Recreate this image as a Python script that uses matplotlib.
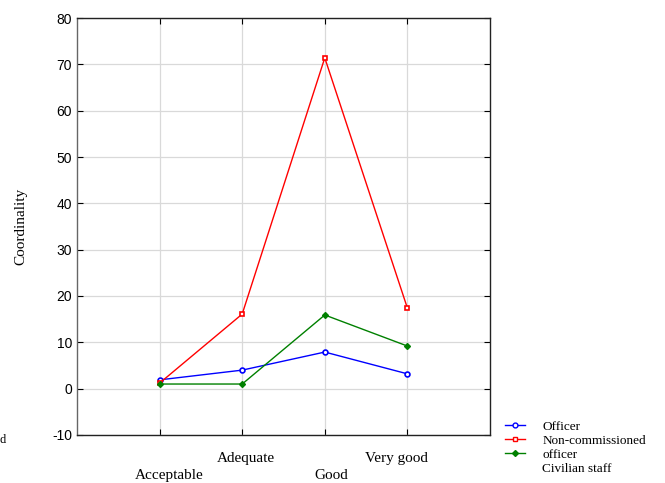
import matplotlib.pyplot as plt
from matplotlib.lines import Line2D

plt.rcParams["axes.unicode_minus"] = False

categories = ["Acceptable", "Adequate", "Good", "Very good"]
officer = [1.9, 4.0, 7.9, 3.2]
nco = [1.2, 16.1, 71.4, 17.4]
civilian = [1.0, 1.0, 15.9, 9.2]
legend_labels = ["Officer", "Non-commissioned", "officer", "Civilian staff"]

SERIF = "Liberation Serif"
SANS = "Liberation Sans"

fig = plt.figure(figsize=(6.65, 4.83), dpi=100)
ax = fig.add_axes([0.1158, 0.0994, 0.6210, 0.8633])

x = list(range(1, len(categories) + 1))
ax.plot(x, officer, color="#0000ff", lw=1.0, marker="o", ms=3.5,
        mfc="white", mec="#0000ff", mew=1.2, zorder=3)
ax.plot(x, nco, color="#ff0000", lw=1.0, marker="s", ms=3.5,
        mfc="white", mec="#ff0000", mew=1.2, zorder=3)
ax.plot(x, civilian, color="#008000", lw=1.0, marker="D", ms=3,
        mfc="#008000", mec="#008000", zorder=3)

ax.set_xlim(0, 5)
ax.set_ylim(-10, 80)
ax.set_yticks(range(-10, 81, 10))
ax.set_xticks(x)
ax.set_xticklabels([])
for lab in ax.get_yticklabels():
    lab.set_fontfamily(SANS)
    lab.set_fontsize(10)

# staggered category labels, slightly shifted sideways as in the original
x_shift = [7, 3, 5, -8]
y_drop = [-29, -17, -29, -17]
for xi, name, dx, dy in zip(x, categories, x_shift, y_drop):
    ax.annotate(name, xy=(xi, 0), xycoords=("data", "axes fraction"),
                xytext=(dx, dy), textcoords="offset points",
                ha="center", va="center", fontfamily=SERIF, fontsize=11)

ax.tick_params(direction="in", length=4, top=True, right=True, width=0.8)
ax.grid(True, color="#d9d9d9", lw=0.9)
ax.set_axisbelow(True)
for sp in ax.spines.values():
    sp.set_color("#222222")
    sp.set_linewidth(1.0)
ax.spines["left"].set_color("#666666")

ax.set_ylabel("Coordinality", fontfamily=SERIF, fontsize=11, labelpad=18)

handles = [
    Line2D([], [], color="#0000ff", lw=1.0, marker="o", ms=3.5, mfc="white", mec="#0000ff"),
    Line2D([], [], color="#ff0000", lw=1.0, marker="s", ms=3.5, mfc="white", mec="#ff0000"),
    Line2D([], [], color="#008000", lw=1.0, marker="D", ms=3, mfc="#008000", mec="#008000"),
    Line2D([], [], color="none"),
]
fig.legend(handles, legend_labels, loc="upper left",
           bbox_to_anchor=(500 / 665, 1 - 415 / 483), frameon=False,
           prop={"family": SERIF, "size": 9.5}, handlelength=1.5,
           handletextpad=1.3, labelspacing=0.15, borderaxespad=0)

fig.text(0.0, 1 - 440 / 483, "d", fontfamily=SERIF, fontsize=9, va="center", ha="left")

fig.savefig("out.png", dpi=100)
